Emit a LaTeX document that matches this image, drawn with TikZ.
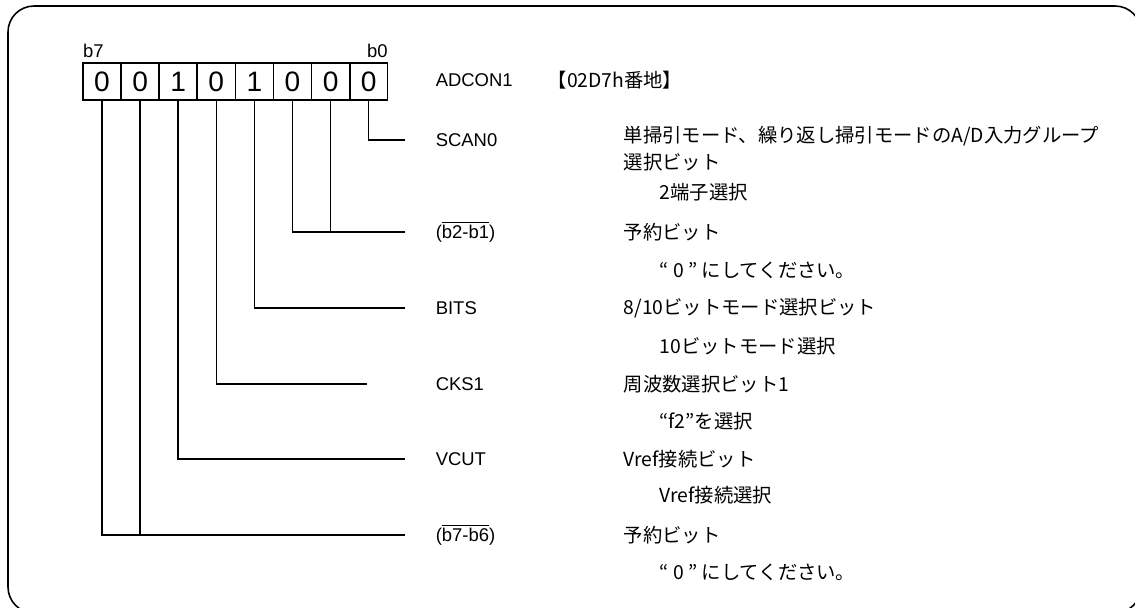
\documentclass[tikz,border=0pt]{standalone}
\usepackage{fontspec}
\setmainfont{Liberation Sans}
\newfontfamily\cjk{Noto Sans CJK JP}
\usetikzlibrary{positioning}

\tikzset{
  bitbox/.style={draw, minimum width=0.76cm, minimum height=0.74cm, inner sep=0pt,
    font=\fontsize{16}{18}\selectfont},
  bitno/.style={inner sep=0pt, yshift=2pt, font=\fontsize{10.5}{12}\selectfont},
  fieldname/.style={anchor=west, inner sep=0pt, font=\fontsize{10.5}{12}\selectfont},
  fielddesc/.style={anchor=west, inner sep=0pt, align=left,
    font=\cjk\fontsize{11}{15.3}\selectfont},
}

\begin{document}
\begin{tikzpicture}[x=0.02cm, y=-0.02cm, line width=0.9pt]
	\useasboundingbox (0,0) rectangle (1135,608);
	\draw[rounded corners=0.52cm] (8,6) rectangle (1141,613);

	% register bits, b7 on the left
	\foreach \v [count=\i from 0] in {0,0,1,0,1,0,0,0} {
		\pgfmathtruncatemacro{\b}{7-\i}
		\node[bitbox] (bit\b) at (102+38.1*\i, 81.5) {\v};
	}
	\node[bitno, anchor=south west] (lb7) at (bit7.north west) {b7};
	\node[bitno, anchor=south east] (lb0) at (bit0.north east) {b0};

	\node[fieldname] (adcon) at (435,80) {ADCON1};
	\node[fielddesc] (addr)  at (547,80) {【02D7h番地】};

	% bit fields
	\node[fieldname] (scan)  at (435,140) {SCAN0};
	\node[fielddesc] (scand) at (623,148.5) {単掃引モード、繰り返し掃引モードのA/D入力グループ\\選択ビット};
	\node[fielddesc] (scann) at (659,192) {2端子選択};

	\node[fieldname] (rsva)  at (435,232) {($\overline{\mbox{b2-b1}}$)};
	\node[fielddesc] (rsvad) at (623,232) {予約ビット};
	\node[fielddesc] (rsvan) at (659,270) {“ 0 ” にしてください。};

	\node[fieldname] (bits)  at (435,308) {BITS};
	\node[fielddesc] (bitsd) at (623,308) {8/10ビットモード選択ビット};
	\node[fielddesc] (bitsn) at (659,346) {10ビットモード選択};

	\node[fieldname] (cks)   at (435,384) {CKS1};
	\node[fielddesc] (cksd)  at (623,384) {周波数選択ビット1};
	\node[fielddesc] (cksn)  at (659,421) {“f2”を選択};

	\node[fieldname] (vcut)  at (435,459) {VCUT};
	\node[fielddesc] (vcutd) at (623,459) {Vref接続ビット};
	\node[fielddesc] (vcutn) at (659,495) {Vref接続選択};

	\node[fieldname] (rsvb)  at (435,535) {($\overline{\mbox{b7-b6}}$)};
	\node[fielddesc] (rsvbd) at (623,535) {予約ビット};
	\node[fielddesc] (rsvbn) at (659,572) {“ 0 ” にしてください。};

	% leader line ends
	\coordinate (e0) at (405,140);
	\coordinate (e1) at (405,232);
	\coordinate (e2) at (405,308);
	\coordinate (e3) at (367,384);
	\coordinate (e4) at (405,459);
	\coordinate (e5) at (405,535);

	\draw (bit0.south) |- (e0);
	\draw (bit2.south) |- (e1);
	\draw (bit1.south) -- (bit1.south |- e1);
	\draw (bit3.south) |- (e2);
	\draw (bit4.south) |- (e3);
	\draw (bit5.south) |- (e4);
	\draw (bit7.south) |- (e5);
	\draw (bit6.south) -- (bit6.south |- e5);

\end{tikzpicture}
\end{document}
